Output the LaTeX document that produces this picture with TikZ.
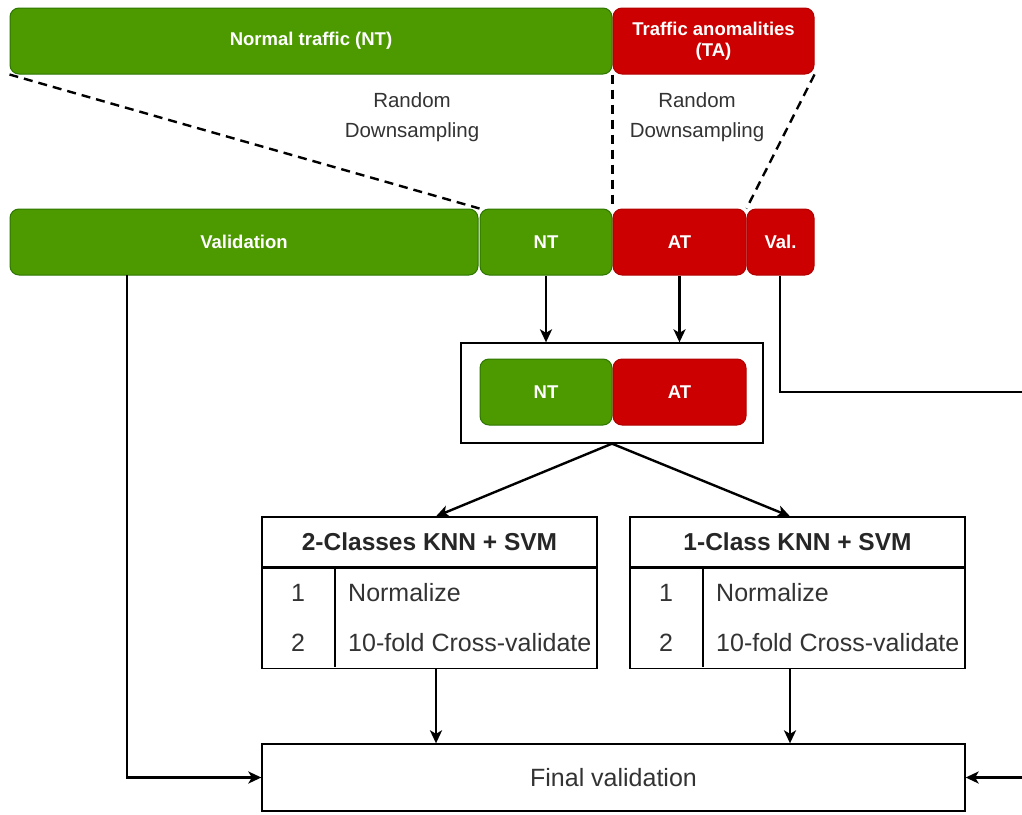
\documentclass[tikz,border=0pt]{standalone}
\usepackage{fontspec}
\setmainfont{Liberation Sans}
\usetikzlibrary{arrows.meta,calc}
\definecolor{ntfill}{HTML}{4D9900}
\definecolor{ntedge}{HTML}{2D7600}
\definecolor{tafill}{HTML}{CC0000}
\definecolor{taedge}{HTML}{B20000}
\definecolor{ink}{HTML}{333333}

\begin{document}
\begin{tikzpicture}[x=1pt,y=-1pt,
  block/.style={rounded corners=9pt, line width=1pt, text=white, inner sep=0pt,
    align=center, font=\bfseries\fontsize{18.5}{21}\selectfont, minimum height=66},
  ntbox/.style={block, draw=ntedge, fill=ntfill},
  tabox/.style={block, draw=taedge, fill=tafill},
  plainbox/.style={draw=black, line width=1.3pt, fill=white, inner sep=0pt},
  note/.style={text=ink, align=center, font=\fontsize{20.5}{30}\selectfont},
  cell/.style={text=ink, font=\fontsize{25}{28}\selectfont, inner sep=0pt},
  head/.style={text=black!85, font=\bfseries\fontsize{24.5}{28}\selectfont, inner sep=0pt},
  flow/.style={line width=2.4pt, -{Stealth[length=13pt, width=12pt, inset=3.5pt]}},
  split/.style={line width=2.4pt, dash pattern=on 9pt off 6pt},
]
\useasboundingbox (0,0) rectangle (1022,814);

% source data
\node[ntbox, minimum width=602] (nt)  at (311,41)   {Normal traffic (NT)};
\node[tabox, minimum width=201] (ta)  at (713.5,41) {Traffic anomalities\\(TA)};

% split into validation and training parts
\node[ntbox, minimum width=468] (val)  at (244,242)   {Validation};
\node[ntbox, minimum width=132] (ntt)  at (546,242)   {NT};
\node[tabox, minimum width=133] (att)  at (679.5,242) {AT};
\node[tabox, minimum width=67]  (vala) at (780.5,242) {Val.};

\node[note] (rd1) at (412,117) {Random\\Downsampling};
\node[note] (rd2) at (697,117) {Random\\Downsampling};

\draw[split] (nt.south west) -- (ntt.north west);
\draw[split] (nt.south east) -- (att.north west);
\draw[split] (ta.south east) -- (vala.north west);

% balanced training set
\node[plainbox, minimum width=302, minimum height=100] (train) at (612,393) {};
\node[ntbox, minimum width=132] (ntb) at (546,392)   {NT};
\node[tabox, minimum width=133] (atb) at (679.5,392) {AT};

\draw[flow] (ntt.south) -- (ntt.south |- train.north);
\draw[flow] (att.south) -- (att.south |- train.north);

% two-class model
\node[plainbox, minimum width=335, minimum height=50]  (lhead) at (429.5,542) {};
\node[plainbox, minimum width=335, minimum height=100, anchor=north] (lbody) at (lhead.south) {};
\node[head] at (lhead.center) {2-Classes KNN + SVM};
\draw[line width=1.3pt] (335,567) -- (335,667);
\node[cell] (l1) at (298,593) {1};
\node[cell] (l2) at (298,643) {2};
\node[cell, anchor=west] (l1t) at (348,593) {Normalize};
\node[cell, anchor=west] (l2t) at (348,643) {10-fold Cross-validate};

% one-class model
\node[plainbox, minimum width=335, minimum height=50]  (rhead) at (797.5,542) {};
\node[plainbox, minimum width=335, minimum height=100, anchor=north] (rbody) at (rhead.south) {};
\node[head] at (rhead.center) {1-Class KNN + SVM};
\draw[line width=1.3pt] (703,567) -- (703,667);
\node[cell] (r1) at (666,593) {1};
\node[cell] (r2) at (666,643) {2};
\node[cell, anchor=west] (r1t) at (716,593) {Normalize};
\node[cell, anchor=west] (r2t) at (716,643) {10-fold Cross-validate};

\draw[flow] (train.south) -- ([xshift=6.5pt]lhead.north);
\draw[flow] (train.south) -- ([xshift=-7.5pt]rhead.north);

% final evaluation
\node[plainbox, minimum width=703, minimum height=67] (final) at (613.5,777.5) {};
\node[cell] at (final.center) {Final validation};

\draw[flow] ([xshift=6.5pt]lbody.south) -- ([xshift=6.5pt]lbody.south |- final.north);
\draw[flow] ([xshift=-7.5pt]rbody.south) -- ([xshift=-7.5pt]rbody.south |- final.north);

\coordinate (valdrop) at (127,275);
\draw[flow] (valdrop) |- (final.west);

\coordinate (edgeA) at (1023,392);
\coordinate (edgeB) at (1023,777.5);
\draw[line width=2.4pt] (vala.south -| 780,0) |- (edgeA);
\draw[flow] (edgeB) -- (final.east);
\end{tikzpicture}
\end{document}
